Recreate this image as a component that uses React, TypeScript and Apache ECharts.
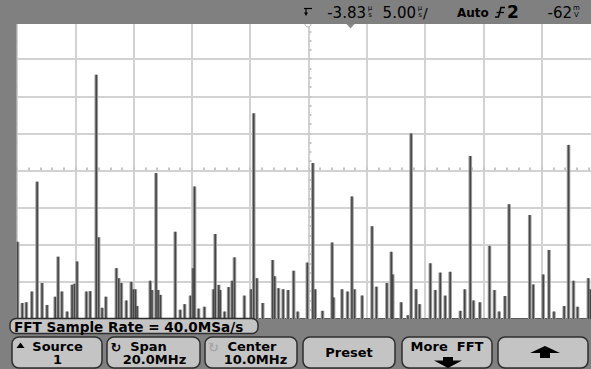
import React, { useEffect, useRef } from "react";
import * as echarts from "echarts";

// FFT spectrum: spike frequencies (MHz) and levels (screen divisions above the floor)
const freqMHz = [
  0.02, 0.18, 0.32, 0.51, 0.69, 0.86, 1.03, 1.31, 1.41, 1.54, 1.72, 1.89, 1.97, 2.06, 2.38, 2.51,
  2.72, 2.8, 2.92, 3.05, 3.41, 3.49, 3.58, 3.75, 3.92, 3.99, 4.06, 4.12, 4.57, 4.63, 4.77, 4.84,
  4.92, 5.43, 5.6, 5.75, 5.95, 6.04, 6.09, 6.23, 6.43, 6.74, 6.8, 6.92, 6.97, 7.12, 7.26, 7.38,
  7.46, 7.8, 8.03, 8.12, 8.23, 8.43, 8.77, 8.84, 8.97, 9.13, 9.3, 9.49, 9.63, 9.96, 10.15, 10.23,
  10.48, 10.81, 10.86, 11.15, 11.34, 11.49, 11.58, 11.84, 12.18, 12.33, 12.69, 12.84, 12.89, 13.18,
  13.41, 13.52, 13.69, 13.81, 14.18, 14.35, 14.52, 14.69, 14.86, 15.21, 15.36, 15.55, 15.66, 15.88,
  16.21, 16.38, 16.54, 16.74, 16.88, 17.59, 17.71, 18.05, 18.25, 18.42, 18.77, 18.92, 19.09, 19.23,
  19.6, 19.67,
];
const level = [
  2.08, 0.43, 0.45, 0.74, 3.7, 0.97, 0.38, 0.6, 1.68, 0.74, 0.2, 0.92, 0.95, 1.55, 0.74, 0.75,
  6.58, 2.2, 0.3, 0.6, 1.37, 1.1, 0.97, 0.5, 1.0, 0.8, 0.8, 0.35, 1.03, 0.78, 3.93, 0.78,
  0.65, 2.35, 0.25, 0.4, 0.63, 1.37, 3.57, 0.28, 0.33, 0.8, 2.29, 0.92, 0.78, 0.2, 0.86, 1.03,
  1.66, 0.63, 0.8, 5.54, 1.1, 0.43, 1.59, 1.15, 0.83, 0.8, 0.78, 1.3, 0.2, 1.52, 4.2, 0.8,
  0.22, 2.06, 0.58, 0.8, 0.74, 3.3, 0.8, 0.63, 2.5, 0.87, 0.97, 1.81, 1.2, 0.45,
  0.1, 5.0, 0.8, 0.4, 1.5, 0.78, 1.25, 0.63, 1.27, 0.22, 0.8, 4.39, 0.5, 0.45,
  1.97, 0.78, 0.2, 0.62, 3.09, 2.8, 0.93, 1.2, 1.86, 0.2, 0.35, 4.69, 1.03, 0.33,
  1.1, 0.8,
];

// Axis setup: span 20 MHz centred on 10 MHz, 10 horizontal and 8 vertical divisions
const spanMin = 0;
const spanMax = 20;
const freqPerDiv = 2;
const divisions = 8;

const GRID_L = 17;
const GRID_T = 22;
const GRID_W = 583;
const GRID_H = 297;
const GRAY = "#808080";
const LINE = "#d2d2d2";
const BTN_FILL = "#c4c4c4";
const BTN_STROKE = "#2e2e2e";
const FONT = "DejaVu Sans";

function hiddenX(gridIndex: number) {
  return { gridIndex, type: "value", min: spanMin, max: spanMax, show: false };
}
function hiddenY(gridIndex: number) {
  return { gridIndex, type: "value", min: 0, max: divisions, show: false };
}

function button(x: number, w: number) {
  return {
    type: "rect",
    z: 100,
    shape: { x, y: 337, width: w, height: 31, r: 7 },
    style: { fill: BTN_FILL, stroke: BTN_STROKE, lineWidth: 1.5 },
  };
}
function label(text: string, x: number, y: number, opts: any = {}) {
  return {
    type: "text",
    z: 101,
    x,
    y,
    style: {
      text,
      fill: opts.fill || "#000",
      fontSize: opts.fontSize || 13,
      fontWeight: opts.fontWeight || "bold",
      fontFamily: FONT,
      align: opts.align || "center",
      verticalAlign: "middle",
      lineHeight: opts.lineHeight,
    },
  };
}
function unit(text: string, x: number) {
  return label(text, x, 11.5, { fontSize: 7, fontWeight: "normal", lineHeight: 7 });
}

export default function App() {
  const ref = useRef<HTMLDivElement>(null);
  useEffect(() => {
    if (!ref.current) return;
    const chart = echarts.init(ref.current, undefined, { renderer: "svg" });
    const pairs = freqMHz.map((f, i) => [f, level[i]]);
    const tickStyle = { color: "#c6c6c6", width: 2 };
    const centerX = (gridIndex: number, position: string) => ({
      gridIndex,
      type: "value",
      min: spanMin,
      max: spanMax,
      interval: freqPerDiv,
      position,
      axisLine: { show: false },
      axisLabel: { show: false },
      splitLine: { show: false },
      axisTick: { show: true, inside: true, length: 3, lineStyle: tickStyle },
      minorTick: { show: true, splitNumber: 5, length: 3, lineStyle: tickStyle },
    });
    const centerY = (gridIndex: number, position: string) => ({
      gridIndex,
      type: "value",
      min: 0,
      max: divisions,
      interval: 1,
      position,
      axisLine: { show: false },
      axisLabel: { show: false },
      splitLine: { show: false },
      axisTick: { show: true, inside: true, length: 3, lineStyle: tickStyle },
      minorTick: { show: true, splitNumber: 4, length: 3, lineStyle: tickStyle },
    });
    const g = (o: any) => ({ outerBoundsMode: "none", containLabel: false, ...o });
    chart.setOption({
      animation: false,
      backgroundColor: GRAY,
      grid: [
        g({ left: GRID_L, top: GRID_T, width: GRID_W, height: GRID_H, show: true, backgroundColor: "#fff", borderWidth: 0 }),
        g({ left: GRID_L, top: GRID_T, width: GRID_W, height: GRID_H / 2 }),
        g({ left: GRID_L, top: GRID_T + GRID_H / 2, width: GRID_W, height: GRID_H / 2 }),
        g({ left: GRID_L, top: GRID_T, width: GRID_W / 2, height: GRID_H }),
        g({ left: GRID_L + GRID_W / 2, top: GRID_T, width: GRID_W / 2, height: GRID_H }),
      ],
      xAxis: [
        {
          gridIndex: 0,
          type: "value",
          min: spanMin,
          max: spanMax,
          interval: freqPerDiv,
          axisLine: { show: true, onZero: false, lineStyle: { color: "#5a5a5a", width: 2 } },
          axisTick: { show: false },
          axisLabel: { show: false },
          splitLine: { show: true, lineStyle: { color: LINE, width: 2 } },
        },
        hiddenX(0),
        centerX(1, "bottom"),
        centerX(2, "top"),
        hiddenX(3),
        hiddenX(4),
      ],
      yAxis: [
        {
          gridIndex: 0,
          type: "value",
          min: 0,
          max: divisions,
          interval: 1,
          axisLine: { show: false },
          axisTick: { show: false },
          axisLabel: { show: false },
          splitLine: { show: true, lineStyle: { color: LINE, width: 2 } },
        },
        hiddenY(1),
        hiddenY(2),
        centerY(3, "right"),
        centerY(4, "left"),
      ],
      series: [
        {
          type: "bar",
          xAxisIndex: 0,
          yAxisIndex: 0,
          data: pairs,
          barWidth: 3.6,
          itemStyle: { color: "#a0a0a0" },
          z: 3,
        },
        {
          type: "bar",
          xAxisIndex: 1,
          yAxisIndex: 0,
          data: pairs,
          barWidth: 1.6,
          itemStyle: { color: "#464646" },
          z: 4,
        },
      ],
      graphic: [
        { type: "rect", z: 100, shape: { x: 0, y: 0, width: 591, height: 24 }, style: { fill: GRAY } },
        { type: "rect", z: 100, shape: { x: 0, y: 0, width: 16.5, height: 320 }, style: { fill: GRAY } },
        { type: "rect", z: 100, shape: { x: 0, y: 319, width: 591, height: 50 }, style: { fill: GRAY } },
        // trigger markers
        { type: "polyline", z: 101, shape: { points: [[304, 8.5], [312, 8.5]] }, style: { stroke: "#000", lineWidth: 1.2, fill: null } },
        { type: "polyline", z: 101, shape: { points: [[306, 8.5], [306, 14]] }, style: { stroke: "#000", lineWidth: 1.2, fill: null } },
        { type: "polygon", z: 101, shape: { points: [[304, 12.5], [308, 12.5], [306, 16]] }, style: { fill: "#000" } },
        { type: "circle", z: 99, shape: { cx: 308, cy: 24, r: 3 }, style: { fill: "#fff", stroke: "#b0b0b0", lineWidth: 1 } },
        { type: "polygon", z: 99, shape: { points: [[346.5, 24], [354.5, 24], [350.5, 28.5]] }, style: { fill: "#8a8a8a" } },
        // top status line
        label("-3.83", 366, 12.5, { align: "right", fontWeight: "normal", fontSize: 15 }),
        unit("µ\ns", 370),
        label("5.00", 416, 12.5, { align: "right", fontWeight: "normal", fontSize: 15 }),
        unit("µ\ns", 420),
        label("/", 423, 12.5, { fontSize: 14, fontWeight: "normal", align: "left" }),
        label("Auto", 457, 12.5, { fontSize: 12, align: "left" }),
        { type: "polyline", z: 101, shape: { points: [[495, 17], [498.5, 17], [501, 7.5], [505, 7.5]] }, style: { stroke: "#000", lineWidth: 1.5, fill: null } },
        { type: "polyline", z: 101, shape: { points: [[496.5, 12.5], [504, 12.5]] }, style: { stroke: "#000", lineWidth: 1.3, fill: null } },
        label("2", 507, 12, { fontSize: 17, align: "left" }),
        label("-62", 572, 12.5, { align: "right", fontWeight: "normal", fontSize: 15 }),
        unit("m\nV", 576.5),
        // FFT sample rate box
        { type: "rect", z: 100, shape: { x: 10, y: 318.5, width: 248, height: 15, r: 6 }, style: { fill: BTN_FILL, stroke: BTN_STROKE, lineWidth: 1.5 } },
        label("FFT Sample Rate = 40.0MSa/s", 14, 326.5, { align: "left", fontSize: 13.6 }),
        // softkeys
        button(12, 90),
        button(107, 93),
        button(205, 92),
        button(303, 92),
        button(402, 90),
        button(498, 90),
        { type: "polygon", z: 101, shape: { points: [[20.5, 342.5], [24.5, 348], [16.5, 348]] }, style: { fill: "#000" } },
        label("Source", 57.5, 346),
        label("1", 57.5, 359.5),
        label("↻", 116, 347, { fontSize: 13 }),
        label("Span", 148.5, 346),
        label("20.0MHz", 154.5, 359.5),
        label("↻", 213.5, 347, { fontSize: 13, fill: "#a6a6a6" }),
        label("Center", 252, 346),
        label("10.0MHz", 255.5, 359.5),
        label("Preset", 349, 352),
        label("More  FFT", 447, 346),
        { type: "polygon", z: 101, shape: { points: [[443, 357], [453, 357], [453, 360.5], [462, 360.5], [448, 368], [434, 360.5], [443, 360.5]] }, style: { fill: "#000" } },
        { type: "polygon", z: 101, shape: { points: [[545, 346], [560, 353], [550, 353], [550, 358], [540, 358], [540, 353], [530, 353]] }, style: { fill: "#000" } },
      ],
    });
    return () => chart.dispose();
  }, []);
  return (
    <div
      ref={ref}
      style={{ position: "fixed", left: 0, top: 0, width: 591, height: 369 }}
    />
  );
}
